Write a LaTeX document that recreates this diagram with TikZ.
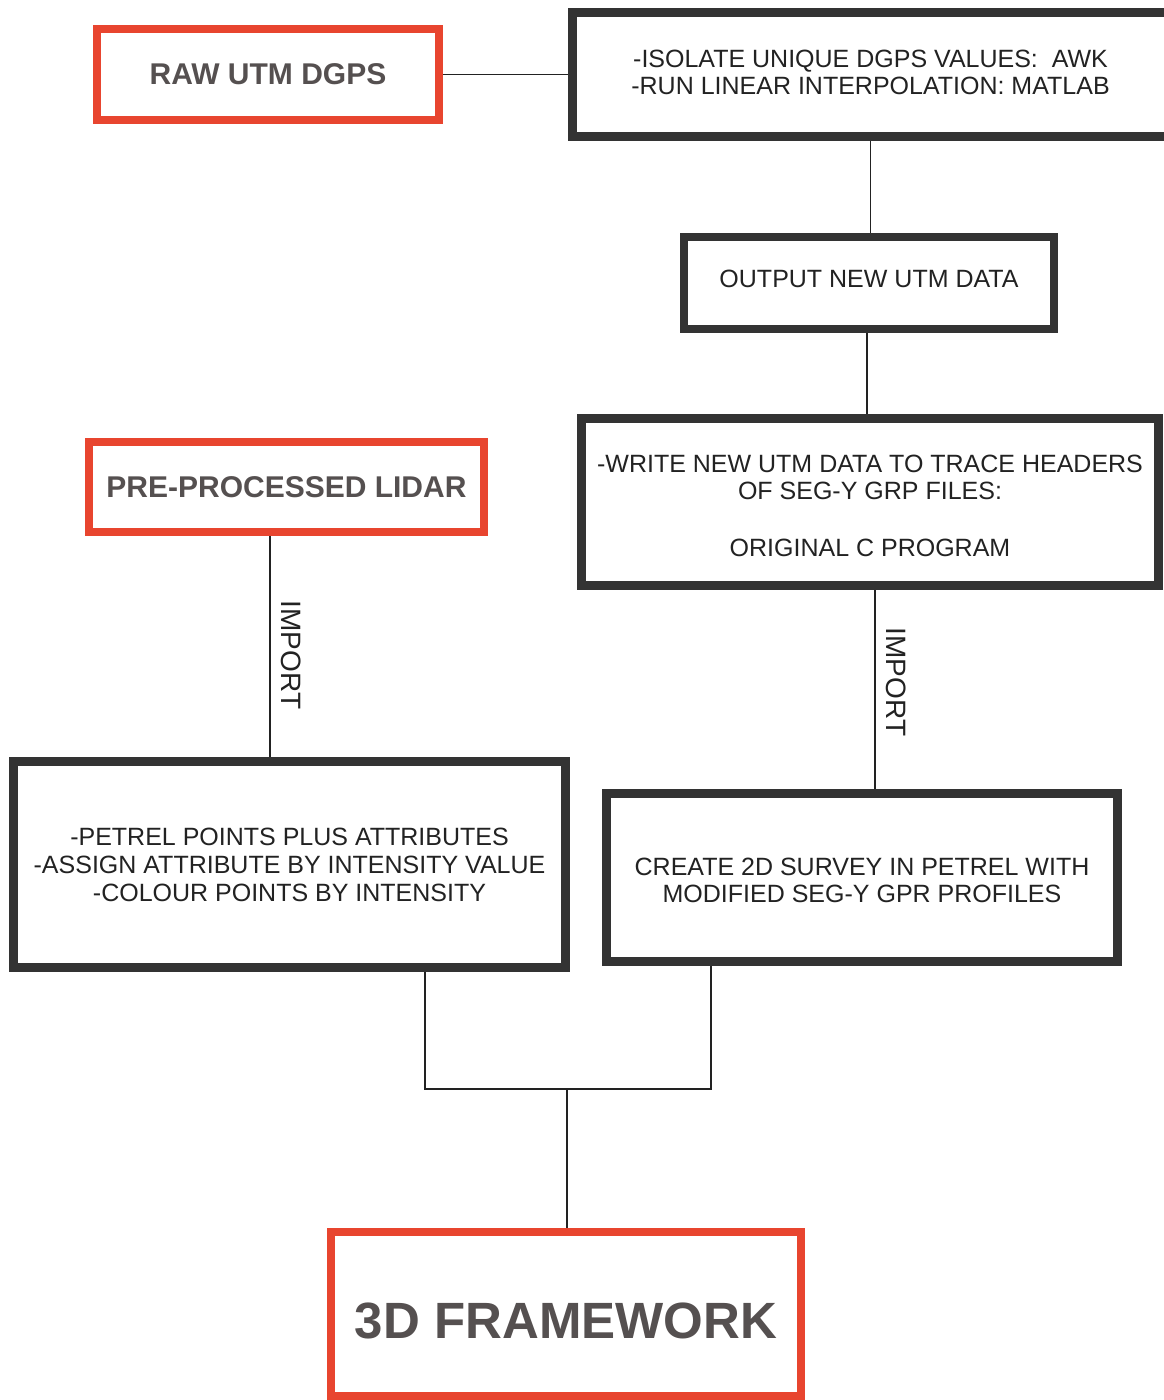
\documentclass[tikz,border=0pt]{standalone}
\usepackage{fontspec}
\setmainfont{Liberation Sans}
\definecolor{boxgray}{HTML}{333333}
\definecolor{boxred}{HTML}{E8452F}
\definecolor{titlegray}{HTML}{555050}
\definecolor{txt}{HTML}{222222}
\begin{document}
\begin{tikzpicture}[x=1pt,y=-1pt,
  darkbox/.style={draw=boxgray,line width=9pt,fill=white,rectangle,inner sep=0pt,align=center,
    text=txt,font=\fontsize{25pt}{27pt}\selectfont},
  redbox/.style={draw=boxred,line width=8pt,fill=white,rectangle,inner sep=0pt,align=center,
    text=titlegray,font=\fontsize{30pt}{32pt}\selectfont\bfseries},
  conn/.style={draw=txt,line width=1.4pt},
  lbl/.style={text=txt,font=\fontsize{28pt}{30pt}\selectfont,rotate=-90,inner sep=0pt}]
\useasboundingbox (0,0) rectangle (1163,1400);
\fill[white] (0,0) rectangle (1163,1400);

\node[redbox,minimum width=342pt,minimum height=91pt] (raw) at (268,74.5) {RAW UTM DGPS};
\node[darkbox,minimum width=596pt,minimum height=124pt] (tr) at (870.5,74.5)
  {-ISOLATE UNIQUE DGPS VALUES:\ \ AWK\\-RUN LINEAR INTERPOLATION: MATLAB\rule[-3.5pt]{0pt}{3.5pt}};
\node[darkbox,line width=8pt,minimum width=370pt,minimum height=92pt,text depth=0pt] (out) at (869,283) {\raisebox{8pt}{OUTPUT NEW UTM DATA}};
\node[redbox,minimum width=395pt,minimum height=90pt] (pre) at (286.5,487) {PRE-PROCESSED LIDAR};
\node[darkbox,minimum width=577pt,minimum height=167pt] (wr) at (870,502)
  {\rule{0pt}{26pt}-WRITE NEW UTM DATA TO TRACE HEADERS\\OF SEG-Y GRP FILES:\\[30pt]ORIGINAL C PROGRAM};
\node[darkbox,minimum width=552pt,minimum height=206pt,font=\fontsize{25pt}{28pt}\selectfont] (pet) at (289.5,864.5)
  {-PETREL POINTS PLUS ATTRIBUTES\\-ASSIGN ATTRIBUTE BY INTENSITY VALUE\\-COLOUR POINTS BY INTENSITY};
\node[darkbox,minimum width=511pt,minimum height=168pt,font=\fontsize{25pt}{27pt}\selectfont] (cre) at (862,877.5)
  {\rule{0pt}{24pt}CREATE 2D SURVEY IN PETREL WITH\\MODIFIED SEG-Y GPR PROFILES};
\node[redbox,minimum width=470pt,minimum height=164pt,font=\fontsize{51pt}{53pt}\selectfont\bfseries] (fw) at (566,1314)
  {\rule{0pt}{49pt}3D FRAMEWORK};

\coordinate (j) at (567,1089);

\draw[conn] (raw.east) -- (raw.east -| tr.west);
\draw[conn] (tr.south) -- (tr.south |- out.north);
\draw[conn] ([xshift=-2pt]out.south) -- ([xshift=-2pt]out.south |- wr.north);
\draw[conn] ([xshift=-16.5pt]pre.south) -- ([xshift=-16.5pt]pre.south |- pet.north);
\draw[conn] ([xshift=5pt]wr.south) -- ([xshift=5pt]wr.south |- cre.north);
\draw[conn] ([xshift=135.5pt]pet.south) |- (j) -| ([xshift=-151pt]cre.south);
\draw[conn] (j) -- (j |- fw.north);

\node[lbl] (imp1) at (291,655) {IMPORT};
\node[lbl] (imp2) at (896,682) {IMPORT};
\end{tikzpicture}
\end{document}
